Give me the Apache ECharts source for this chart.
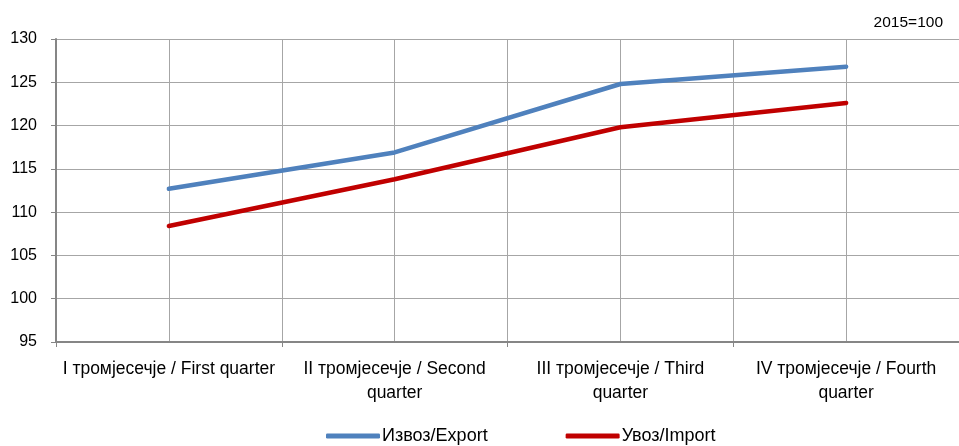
<!DOCTYPE html>
<html><head><meta charset="utf-8">
<script src="https://cdn.jsdelivr.net/npm/echarts@6/dist/echarts.min.js"></script>
<style>html,body{margin:0;padding:0;background:#fff}#c{width:959px;height:446px}</style>
</head><body><div id="c"></div>
<script>
var categories = ['I тромјесечје / First quarter', 'II тромјесечје / Second\nquarter', 'III тромјесечје / Third\nquarter', 'IV тромјесечје / Fourth\nquarter'];
var exportValues = [112.7, 116.9, 124.8, 126.8];
var importValues = [108.4, 113.8, 119.8, 122.6];
var exportName = 'Извоз/Export';
var importName = 'Увоз/Import';
var noteText = '2015=100';
var FONT = '"Liberation Sans", Arial, sans-serif';
var halfSlots = ['', '', '', '', '', '', '', ''];
var chart = echarts.init(document.getElementById('c'));
chart.setOption({
  animation: false,
  textStyle: {fontFamily: FONT},
  title: {text: noteText, right: 11, top: 10, textStyle: {fontFamily: FONT, fontSize: 15.5, fontWeight: 'normal', color: '#000'}},
  grid: {left: 56, right: -1, top: 39, bottom: 104},
  legend: {
    left: 321, top: 422, itemWidth: 54, itemHeight: 5, itemGap: 78,
    icon: 'roundRect',
    textStyle: {fontFamily: FONT, fontSize: 18, color: '#000', padding: [0, 0, 0, -3]},
    data: [exportName, importName]
  },
  xAxis: [{
    type: 'category', data: categories, boundaryGap: true,
    axisLine: {lineStyle: {color: '#868686', width: 2}},
    axisTick: {show: true, length: 5, lineStyle: {color: '#868686', width: 1}},
    splitLine: {show: false},
    axisLabel: {fontFamily: FONT, fontSize: 17.5, color: '#000', margin: 15, lineHeight: 24, interval: 0}
  }, {
    type: 'category', data: halfSlots, boundaryGap: true, position: 'bottom',
    axisLine: {show: false}, axisTick: {show: false}, axisLabel: {show: false},
    splitLine: {show: true, lineStyle: {color: '#A6A6A6', width: 1}}
  }],
  yAxis: {
    type: 'value', min: 95, max: 130, interval: 5,
    axisLine: {show: true, lineStyle: {color: '#868686', width: 2}},
    axisTick: {show: true, length: 5, lineStyle: {color: '#868686'}},
    splitLine: {lineStyle: {color: '#A6A6A6', width: 1}},
    axisLabel: {fontFamily: FONT, fontSize: 16, color: '#000', margin: 19}
  },
  series: [{
    name: exportName, type: 'line', data: exportValues, xAxisIndex: 0,
    symbol: 'none', lineStyle: {width: 4.5, color: '#4F81BD', cap: 'round'}, itemStyle: {color: '#4F81BD'}
  }, {
    name: importName, type: 'line', data: importValues, xAxisIndex: 0,
    symbol: 'none', lineStyle: {width: 4.5, color: '#C00000', cap: 'round'}, itemStyle: {color: '#C00000'}
  }]
});
</script></body></html>
